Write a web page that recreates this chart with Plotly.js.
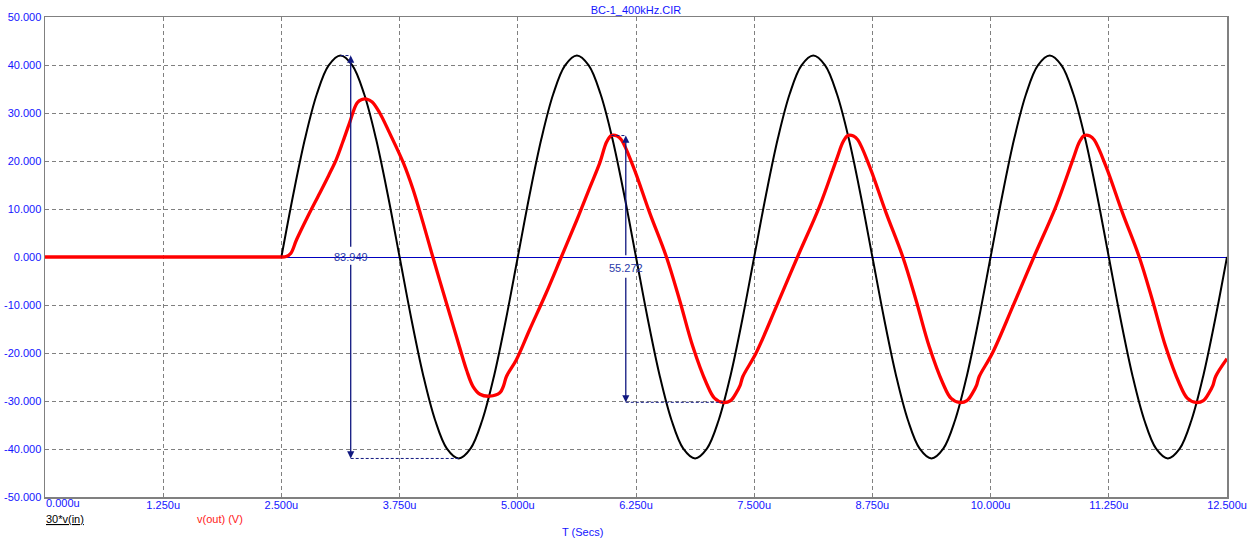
<!DOCTYPE html>
<html>
<head>
<meta charset="utf-8">
<script src="https://cdn.plot.ly/plotly-3.0.1.min.js"></script>
<style>html,body{margin:0;padding:0;background:#fff;}#chart{width:1256px;height:545px;}</style>
</head>
<body>
<div id="chart"></div>
<script>
// ---- data ----
const chartTitle = 'BC-1_400kHz.CIR';
const xTickVals = [0, 1.25, 2.5, 3.75, 5, 6.25, 7.5, 8.75, 10, 11.25, 12.5];
const xTickText = ['0.000u', '1.250u', '2.500u', '3.750u', '5.000u', '6.250u', '7.500u', '8.750u', '10.000u', '11.250u', '12.500u'];
const yTickVals = [-50, -40, -30, -20, -10, 0, 10, 20, 30, 40, 50];
const yTickText = ['-50.000', '-40.000', '-30.000', '-20.000', '-10.000', '0.000', '10.000', '20.000', '30.000', '40.000', '50.000'];

// 30*v(in), time in microseconds (flat until the source starts at 2.5u)
const tInFlat = [0, 2.5];
const vInFlat = [0, 0];
const tIn = [2.5, 2.625, 2.75, 2.875, 3, 3.125, 3.25, 3.375, 3.5, 3.625,
  3.75, 3.875, 4, 4.125, 4.25, 4.375, 4.5, 4.625, 4.75, 4.875,
  5, 5.125, 5.25, 5.375, 5.5, 5.625, 5.75, 5.875, 6, 6.125,
  6.25, 6.375, 6.5, 6.625, 6.75, 6.875, 7, 7.125, 7.25, 7.375,
  7.5, 7.625, 7.75, 7.875, 8, 8.125, 8.25, 8.375, 8.5, 8.625,
  8.75, 8.875, 9, 9.125, 9.25, 9.375, 9.5, 9.625, 9.75, 9.875,
  10, 10.125, 10.25, 10.375, 10.5, 10.625, 10.75, 10.875, 11, 11.125,
  11.25, 11.375, 11.5, 11.625, 11.75, 11.875, 12, 12.125, 12.25, 12.375, 12.5];
const vIn = [0, 12.97, 24.67, 33.95, 39.92, 41.97, 39.92, 33.95, 24.67, 12.97,
  0, -12.97, -24.67, -33.95, -39.92, -41.97, -39.92, -33.95, -24.67, -12.97,
  0, 12.97, 24.67, 33.95, 39.92, 41.97, 39.92, 33.95, 24.67, 12.97,
  0, -12.97, -24.67, -33.95, -39.92, -41.97, -39.92, -33.95, -24.67, -12.97,
  0, 12.97, 24.67, 33.95, 39.92, 41.97, 39.92, 33.95, 24.67, 12.97,
  0, -12.97, -24.67, -33.95, -39.92, -41.97, -39.92, -33.95, -24.67, -12.97,
  0, 12.97, 24.67, 33.95, 39.92, 41.97, 39.92, 33.95, 24.67, 12.97,
  0, -12.97, -24.67, -33.95, -39.92, -41.97, -39.92, -33.95, -24.67, -12.97, 0];

// v(out) (V)
const tOutFlat = [0, 2.5];
const vOutFlat = [0, 0];
const tOut = [2.5, 2.55, 2.6, 2.66, 2.78, 2.905, 3.0, 3.08, 3.15, 3.22, 3.3, 3.35, 3.4, 3.46, 3.54,
  3.645, 3.79, 3.89, 4.0, 4.1, 4.245, 4.35, 4.457, 4.527, 4.6, 4.703, 4.81, 4.85, 4.88, 4.985,
  5.126, 5.3, 5.46, 5.62, 5.76, 5.867, 5.94,
  5.99, 6.05, 6.096, 6.22, 6.395, 6.57, 6.71, 6.85, 6.995, 7.08, 7.17, 7.25, 7.31, 7.35, 7.38,
  7.52, 7.735, 7.96, 8.19, 8.37, 8.44,
  8.49, 8.55, 8.596, 8.72, 8.895, 9.07, 9.21, 9.35, 9.495, 9.58, 9.67, 9.75, 9.81, 9.85, 9.88,
  10.02, 10.235, 10.46, 10.69, 10.87, 10.94,
  10.99, 11.05, 11.096, 11.22, 11.395, 11.57, 11.71, 11.85, 11.995, 12.08, 12.17, 12.25, 12.31, 12.35, 12.38,
  12.5];
const vOut = [0, 0.1, 0.8, 3.6, 8.5, 13.3, 17.0, 20.3, 24.0, 27.9, 32.1, 32.8, 32.9, 32.3, 30.0,
  25.8, 19.6, 14.2, 7.0, 0.1, -9.6, -16.5, -23.5, -27.0, -28.6, -29.0, -28.3, -26.8, -24.9, -21.4,
  -15.1, -7.5, 0, 7.5, 14.4, 19.6, 24.0,
  25.3, 25.2, 24.4, 18.9, 9.2, 0.1, -8.9, -18.6, -26.3, -29.4, -30.3, -29.9, -28.3, -26.8, -24.9,
  -20.0, -10.3, 0.1, 10.5, 20.3, 24.0,
  25.3, 25.2, 24.4, 18.9, 9.2, 0.1, -8.9, -18.6, -26.3, -29.4, -30.3, -29.9, -28.3, -26.8, -24.9,
  -20.0, -10.3, 0.1, 10.5, 20.3, 24.0,
  25.3, 25.2, 24.4, 18.9, 9.2, 0.1, -8.9, -18.6, -26.3, -29.4, -30.3, -29.9, -28.3, -26.8, -24.9,
  -21.2];

// measurement cursors
const measLabels = ['83.949', '55.272'];
const measX = [3.233, 6.142];
const measTop = [41.97, 25.3];
const measBottom = [-41.97, -30.27];
const measLabelY = [0, -2.2];
const measGapTop = [1.8, 0.05];
const measGapBottom = [-1.3, -4.0];
const measTopFromX = [3.125, 5.99];
const measBottomToX = [4.375, 7.17];

const seriesNames = ['30*v(in)', 'v(out) (V)'];
const axisTitle = 'T (Secs)';

// ---- build ----
const navy = '#101880';
const labelBlue = '#1414ff';
const font = 'Arial, "Liberation Sans", sans-serif';

const blackLine = {color: '#000000', width: 2};
const redLine = {color: '#ff0000', width: 3.3};
const traces = [
  {x: tInFlat, y: vInFlat, mode: 'lines', line: blackLine, hoverinfo: 'skip'},
  {x: tIn, y: vIn, mode: 'lines', line: Object.assign({shape: 'spline', smoothing: 1}, blackLine), hoverinfo: 'skip'},
  {x: tOutFlat, y: vOutFlat, mode: 'lines', line: redLine, hoverinfo: 'skip'},
  {x: tOut, y: vOut, mode: 'lines', line: Object.assign({shape: 'spline', smoothing: 1}, redLine), hoverinfo: 'skip'}
];

const shapes = [];
const annotations = [];
for (let i = 0; i < measX.length; i++) {
  shapes.push({type: 'line', xref: 'x', yref: 'y', x0: measTopFromX[i], x1: measX[i], y0: measTop[i], y1: measTop[i], line: {color: navy, width: 1, dash: '3px,2px'}});
  shapes.push({type: 'line', xref: 'x', yref: 'y', x0: measX[i], x1: measBottomToX[i], y0: measBottom[i], y1: measBottom[i], line: {color: navy, width: 1, dash: '3px,2px'}});
  annotations.push({x: measX[i], y: measTop[i], ax: measX[i], ay: measGapTop[i], xref: 'x', yref: 'y', axref: 'x', ayref: 'y', text: '', showarrow: true, arrowhead: 2, arrowsize: 1.1, arrowwidth: 1.3, arrowcolor: navy, standoff: 0, startstandoff: 0});
  annotations.push({x: measX[i], y: measBottom[i], ax: measX[i], ay: measGapBottom[i], xref: 'x', yref: 'y', axref: 'x', ayref: 'y', text: '', showarrow: true, arrowhead: 2, arrowsize: 1.1, arrowwidth: 1.3, arrowcolor: navy, standoff: 0, startstandoff: 0});
  annotations.push({x: measX[i], y: measLabelY[i], xref: 'x', yref: 'y', text: measLabels[i], showarrow: false, xanchor: 'center', yanchor: 'middle', font: {family: font, size: 11, color: '#2838a8'}});
}

// first tick label is left-aligned at the axis start
annotations.push({x: 0, y: -0.0125, xref: 'paper', yref: 'paper', text: xTickText[0], showarrow: false, xanchor: 'left', yanchor: 'middle', xshift: -1, font: {family: font, size: 11, color: labelBlue}});
annotations.push({x: 0, y: -0.0458, xref: 'paper', yref: 'paper', text: '<u>' + seriesNames[0] + '</u>', showarrow: false, xanchor: 'left', yanchor: 'middle', xshift: -1, font: {family: font, size: 11, color: '#000000'}});
annotations.push({x: 0.1269, y: -0.0458, xref: 'paper', yref: 'paper', text: seriesNames[1], showarrow: false, xanchor: 'left', yanchor: 'middle', font: {family: font, size: 11, color: '#ff2020'}});
annotations.push({x: 0.455, y: -0.0729, xref: 'paper', yref: 'paper', text: axisTitle, showarrow: false, xanchor: 'center', yanchor: 'middle', font: {family: font, size: 11, color: labelBlue}});

const xText = xTickText.slice();
xText[0] = '';

const layout = {
  width: 1256, height: 545,
  margin: {l: 45, r: 29, t: 17, b: 48, pad: 0},
  paper_bgcolor: '#ffffff', plot_bgcolor: '#ffffff',
  showlegend: false,
  font: {family: font, size: 11, color: labelBlue},
  title: {text: chartTitle, x: 0.5, xref: 'paper', y: 1 - 10 / 545, yref: 'container', xanchor: 'center', yanchor: 'middle', font: {family: font, size: 11, color: labelBlue}},
  xaxis: {
    range: [0, 12.5], tickmode: 'array', tickvals: xTickVals, ticktext: xText,
    showgrid: true, gridcolor: '#808080', griddash: '4px,3px', gridwidth: 1,
    showline: true, mirror: true, linecolor: '#808080', linewidth: 1.5,
    ticks: '', ticklen: 0, ticklabelstandoff: -3, zeroline: false, tickfont: {family: font, size: 11, color: labelBlue}
  },
  yaxis: {
    range: [-50, 50], tickmode: 'array', tickvals: yTickVals, ticktext: yTickText,
    showgrid: true, gridcolor: '#808080', griddash: '4px,3px', gridwidth: 1,
    showline: true, mirror: true, linecolor: '#808080', linewidth: 1.5,
    ticks: '', zeroline: true, zerolinecolor: '#0000c0', zerolinewidth: 1,
    tickfont: {family: font, size: 11, color: labelBlue}
  },
  shapes: shapes,
  annotations: annotations
};

Plotly.newPlot('chart', traces, layout, {displayModeBar: false, staticPlot: true});
</script>
</body>
</html>
